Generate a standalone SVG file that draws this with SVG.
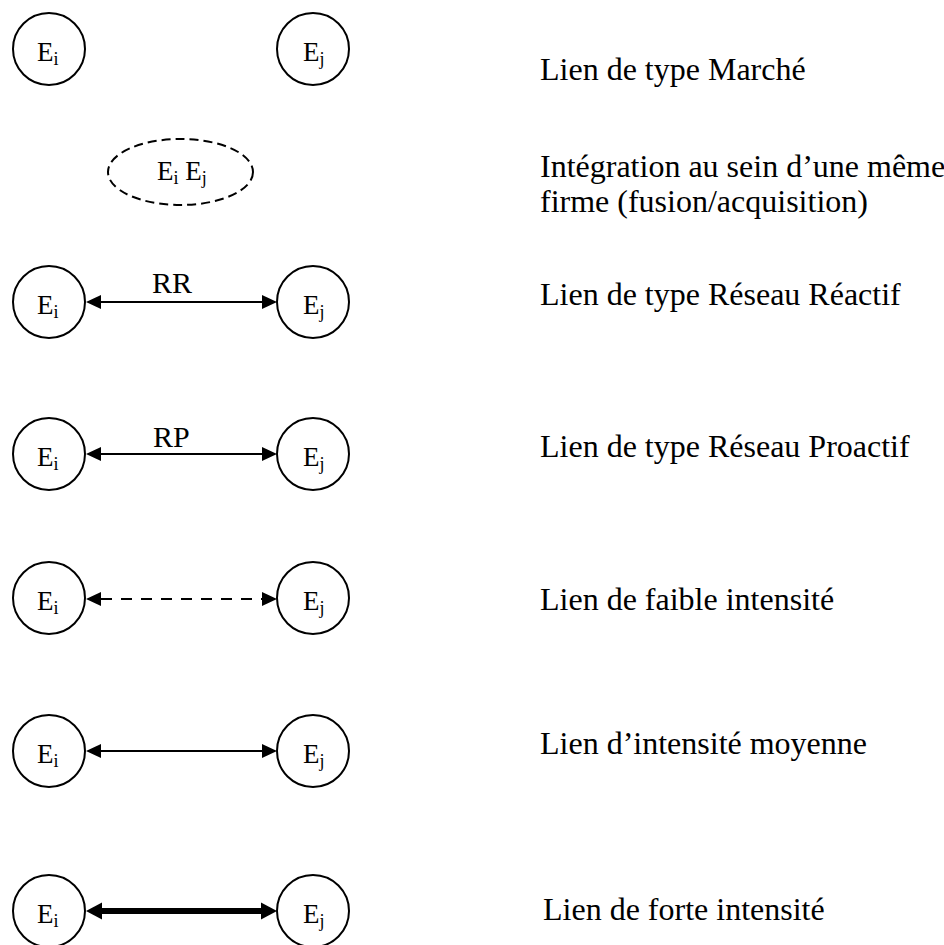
<svg xmlns="http://www.w3.org/2000/svg" width="944" height="945" viewBox="0 0 944 945">
<style>
.n{fill:#fff;stroke:#000;stroke-width:2}
.t{font-family:"Liberation Serif","Times New Roman",serif;fill:#000}
.e{font-size:27px}
.s{font-size:18px}
.lbl{font-size:32px}
.rl{font-size:30px}
.c{stroke:#000;stroke-width:2;fill:none}
</style>
<defs>
<marker id="ah" markerUnits="userSpaceOnUse" markerWidth="20" markerHeight="20" refX="0" refY="0" orient="auto-start-reverse" overflow="visible">
<path d="M0,-7 L15,0 L0,7 z" fill="#000"/>
</marker>
<marker id="ahb" markerUnits="userSpaceOnUse" markerWidth="20" markerHeight="20" refX="0" refY="0" orient="auto-start-reverse" overflow="visible">
<path d="M0,-8.5 L16,0 L0,8.5 z" fill="#000"/>
</marker>
</defs>
<rect width="944" height="945" fill="#fff"/>

<g id="connectors">
<path class="c" d="M101,302 H262" marker-start="url(#ah)" marker-end="url(#ah)"/>
<path class="c" d="M101,454 H262" marker-start="url(#ah)" marker-end="url(#ah)"/>
<path class="c" d="M101,599 H262" stroke-dasharray="11 9" marker-start="url(#ah)" marker-end="url(#ah)"/>
<path class="c" d="M101,751 H262" marker-start="url(#ah)" marker-end="url(#ah)"/>
<path class="c" d="M102,911 H261" style="stroke-width:6" marker-start="url(#ahb)" marker-end="url(#ahb)"/>
<text class="t rl" x="152" y="293">RR</text>
<text class="t rl" x="153" y="447">RP</text>
</g>

<g id="row1-ei"><circle class="n" cx="49" cy="49" r="36"/><text class="t e" x="37" y="61">E<tspan class="s" dy="4">i</tspan></text></g>
<g id="row1-ej"><circle class="n" cx="313" cy="49" r="36"/><text class="t e" x="303" y="61">E<tspan class="s" dy="4">j</tspan></text></g>

<g id="row2-eiej"><ellipse class="n" cx="180.5" cy="172" rx="72.5" ry="33" stroke-dasharray="9 5"/><text class="t e" x="157" y="180">E<tspan class="s" dy="4">i</tspan><tspan dy="-4"> E</tspan><tspan class="s" dy="4">j</tspan></text></g>

<g id="row3-ei"><circle class="n" cx="49" cy="302" r="36"/><text class="t e" x="37" y="314">E<tspan class="s" dy="4">i</tspan></text></g>
<g id="row3-ej"><circle class="n" cx="313" cy="302" r="36"/><text class="t e" x="303" y="314">E<tspan class="s" dy="4">j</tspan></text></g>

<g id="row4-ei"><circle class="n" cx="49" cy="454" r="36"/><text class="t e" x="37" y="466">E<tspan class="s" dy="4">i</tspan></text></g>
<g id="row4-ej"><circle class="n" cx="313" cy="454" r="36"/><text class="t e" x="303" y="466">E<tspan class="s" dy="4">j</tspan></text></g>

<g id="row5-ei"><circle class="n" cx="49" cy="598" r="36"/><text class="t e" x="37" y="610">E<tspan class="s" dy="4">i</tspan></text></g>
<g id="row5-ej"><circle class="n" cx="313" cy="598" r="36"/><text class="t e" x="303" y="610">E<tspan class="s" dy="4">j</tspan></text></g>

<g id="row6-ei"><circle class="n" cx="49" cy="751" r="36"/><text class="t e" x="37" y="763">E<tspan class="s" dy="4">i</tspan></text></g>
<g id="row6-ej"><circle class="n" cx="313" cy="751" r="36"/><text class="t e" x="303" y="763">E<tspan class="s" dy="4">j</tspan></text></g>

<g id="row7-ei"><circle class="n" cx="49" cy="911" r="36"/><text class="t e" x="37" y="923">E<tspan class="s" dy="4">i</tspan></text></g>
<g id="row7-ej"><circle class="n" cx="313" cy="911" r="36"/><text class="t e" x="303" y="923">E<tspan class="s" dy="4">j</tspan></text></g>

<g id="legend">
<text class="t lbl" x="540" y="80">Lien de type Marché</text>
<text class="t lbl" x="540" y="177">Intégration au sein d’une même</text>
<text class="t lbl" x="540" y="212">firme (fusion/acquisition)</text>
<text class="t lbl" x="540" y="305">Lien de type Réseau Réactif</text>
<text class="t lbl" x="540" y="457">Lien de type Réseau Proactif</text>
<text class="t lbl" x="540" y="610">Lien de faible intensité</text>
<text class="t lbl" x="540" y="754">Lien d’intensité moyenne</text>
<text class="t lbl" x="543" y="920">Lien de forte intensité</text>
</g>
</svg>
